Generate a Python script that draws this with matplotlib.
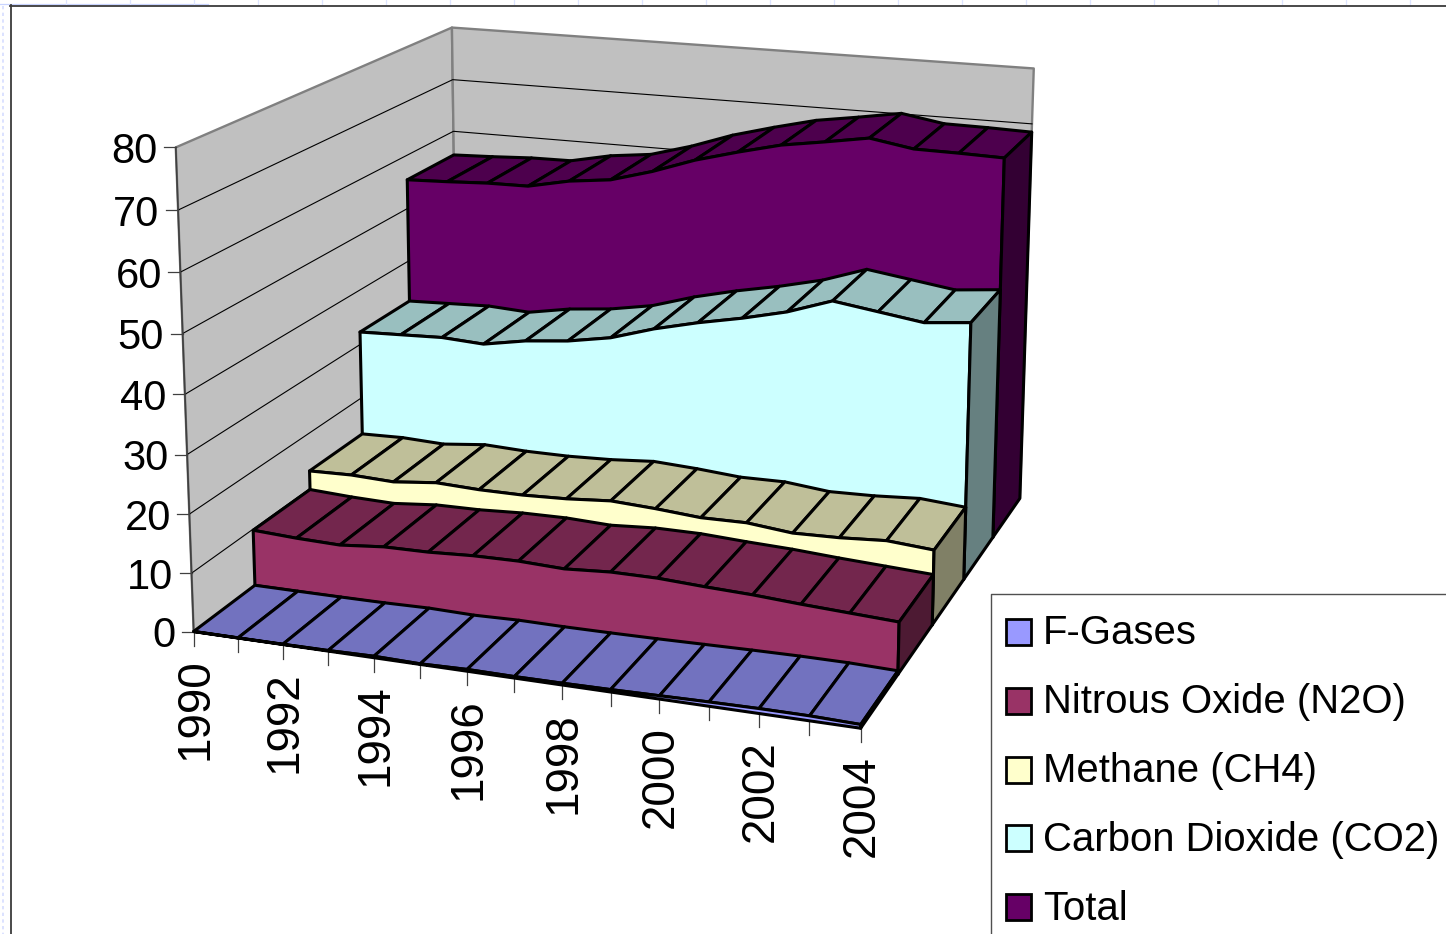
import numpy as np
import matplotlib
matplotlib.use("Agg")
import matplotlib.pyplot as plt
from matplotlib.patches import Polygon, Rectangle

plt.rcParams['font.family'] = ['Liberation Sans', 'DejaVu Sans']

# ---------- data ----------
years = list(range(1990, 2005))
series_names = ["F-Gases", "Nitrous Oxide (N2O)", "Methane (CH4)", "Carbon Dioxide (CO2)", "Total"]
f_gases = [0.03, 0.03, 0.05, 0.1, 0.25, 0.1, 0.3, 0.25, 0.3, 0.4, 0.55, 0.7, 0.8, 0.8, 0.6]
n2o = [9.8, 9.4, 9.2, 9.9, 10.0, 10.4, 10.5, 10.2, 10.7, 10.7, 10.3, 10.0, 9.5, 9.1, 8.7]
ch4 = [13.2, 13.4, 13.1, 13.9, 13.6, 13.6, 13.9, 14.5, 14.1, 13.5, 13.6, 12.8, 13.0, 13.5, 12.9]
co2 = [32.3, 32.6, 32.9, 32.5, 33.9, 34.7, 36.1, 38.5, 40.4, 42.0, 43.9, 46.6, 45.5, 44.4, 45.2]
total = [55.4, 55.7, 56.1, 56.2, 57.8, 58.7, 60.9, 63.6, 65.7, 67.6, 68.8, 70.1, 68.8, 68.7, 68.5]
value_ticks = [0, 10, 20, 30, 40, 50, 60, 70, 80]

# front, top, side shades
front_colors = ["#9999FF", "#993366", "#FFFFCC", "#CCFFFF", "#660066"]
top_colors = ["#7272BF", "#73264D", "#BFBF99", "#99BFBF", "#4D004D"]
side_colors = ["#4D4D80", "#4D1A33", "#808066", "#668080", "#330033"]

# ---------- camera: control points of the chart box -> pixels ----------
CAL = np.array([
    (0, 0, 0, 193, 632), (14, 0, 0, 862, 730), (0, 0, 80, 176, 148), (0, 0, 70, 178, 210),
    (0, 0, 40, 184.5, 394), (0, 0, 30, 187, 455), (0, 5, 80, 452, 28), (0, 5, 70, 452, 80),
    (0, 5, 60, 453, 130), (14, 5, 80, 1035, 69), (14, 5, 70, 1032.5, 122.7), (14, 5, 0, 1020, 500),
    (14, 1, 0, 898, 672), (14, 2, 0, 932, 625), (14, 3, 0, 963, 578), (14, 4, 0, 993, 538),
    (0, 1, 0, 255, 585), (0, 4, 55.4, 408, 180), (14, 4, 68.5, 1003, 158), (0, 3, 32.3, 361, 332),
    (14, 3, 45.2, 970, 323), (0, 2, 13.2, 310, 471), (14, 2, 12.9, 933, 550), (0, 1, 9.8, 253, 530),
    (14, 1, 8.7, 900, 622)], float)


def fit(c):
    A = []
    for u, d, v, x, y in c:
        X = [u, d, v / 10, 1]
        A.append(X + [0, 0, 0, 0] + [-x * t for t in X])
        A.append([0, 0, 0, 0] + X + [-y * t for t in X])
    return np.linalg.svd(np.array(A))[2][-1].reshape(3, 4)


P = fit(CAL)


def proj(u, d, v):
    h = P @ np.array([u, d, v / 10, 1.0])
    return h[0] / h[2], h[1] / h[2]


def poly(ax, pts, fc, ec="black", lw=2.2, z=1):
    ax.add_patch(Polygon([proj(*p) for p in pts], closed=True, facecolor=fc, edgecolor=ec,
                         linewidth=lw, joinstyle="round", zorder=z))


fig = plt.figure(figsize=(14.46, 9.34), dpi=100, facecolor="white")
ax = fig.add_axes([0, 0, 1, 1])
ax.set_xlim(0, 1446)
ax.set_ylim(934, 0)
ax.axis("off")

# page furniture
ax.plot([10, 1446], [5.5, 5.5], color="#3a3a3a", lw=1.3, zorder=1)
ax.plot([10.5, 10.5], [5, 934], color="#3a3a3a", lw=1.3, zorder=1)
ax.plot([0, 208], [4, 4], color="#c8d4ff", lw=0.9, zorder=0)
ax.plot([3, 3], [6, 934], color="#d5ddff", lw=1.2, ls=(0, (2, 2)), zorder=0)
for x in range(66, 1446, 64):
    ax.plot([x, x], [0, 4], color="#dde4ff", lw=0.9, zorder=0)

# walls
nu = len(years) - 1
poly(ax, [(0, 0, 0), (0, 5, 0), (0, 5, 80), (0, 0, 80)], "#C0C0C0", ec="#808080", lw=1.7, z=1)
poly(ax, [(0, 5, 0), (nu, 5, 0), (nu, 5, 80), (0, 5, 80)], "#C0C0C0", ec="#808080", lw=1.7, z=1)
for v in value_ticks[:-1]:
    line = [proj(0, 0, v), proj(0, 5, v), proj(nu, 5, v)]
    ax.plot(*zip(*line), color="black", lw=0.8, zorder=2)

# areas, back to front
stack = [f_gases, n2o, ch4, co2, total]
z = 3
for d in range(4, -1, -1):
    vals = stack[d]
    # top surface, one slat per interval
    for u in range(nu):
        poly(ax, [(u, d, vals[u]), (u + 1, d, vals[u + 1]), (u + 1, d + 1, vals[u + 1]), (u, d + 1, vals[u])],
             top_colors[d], z=z)
    # front face
    pts = [(u, d, vals[u]) for u in range(nu + 1)] + [(nu, d, 0), (0, d, 0)]
    poly(ax, pts, front_colors[d], z=z + 1)
    # right side
    poly(ax, [(nu, d, 0), (nu, d + 1, 0), (nu, d + 1, vals[nu]), (nu, d, vals[nu])], side_colors[d], z=z + 1)
    z += 2

# axes ticks and labels
for v in value_ticks:
    x, y = proj(0, 0, v)
    ax.plot([x - 12, x], [y, y], color="#404040", lw=0.9, zorder=2)
    ax.text(x - 18.5, y + 4.5, str(v), ha="right", va="center", fontsize=30, color="black", zorder=30)
ax.plot(*zip(proj(0, 0, 0), proj(0, 0, 80)), color="#404040", lw=1.2, zorder=2)
for u, yr in enumerate(years):
    x, y = proj(u, 0, 0)
    ax.plot([x, x], [y, y + 14], color="#404040", lw=0.9, zorder=2)
    if yr % 2 == 0:
        ax.text(x + 1.5, y + 27, str(yr), rotation=90, ha="center", va="top", fontsize=33, color="black", zorder=30)

# legend
ax.plot([991, 991, 1446], [934, 593.5, 593.5], color="#505050", lw=1.0, zorder=30)
for i, name in enumerate(series_names):
    top = 619 + 68.8 * i
    ax.add_patch(Rectangle((1006, top), 25, 26, facecolor=front_colors[i], edgecolor="black", lw=2.0, zorder=30))
    ax.text(1043, top + 14.5, name, ha="left", va="center", fontsize=28.9, color="black", zorder=30)

fig.savefig("out.png", dpi=100)
